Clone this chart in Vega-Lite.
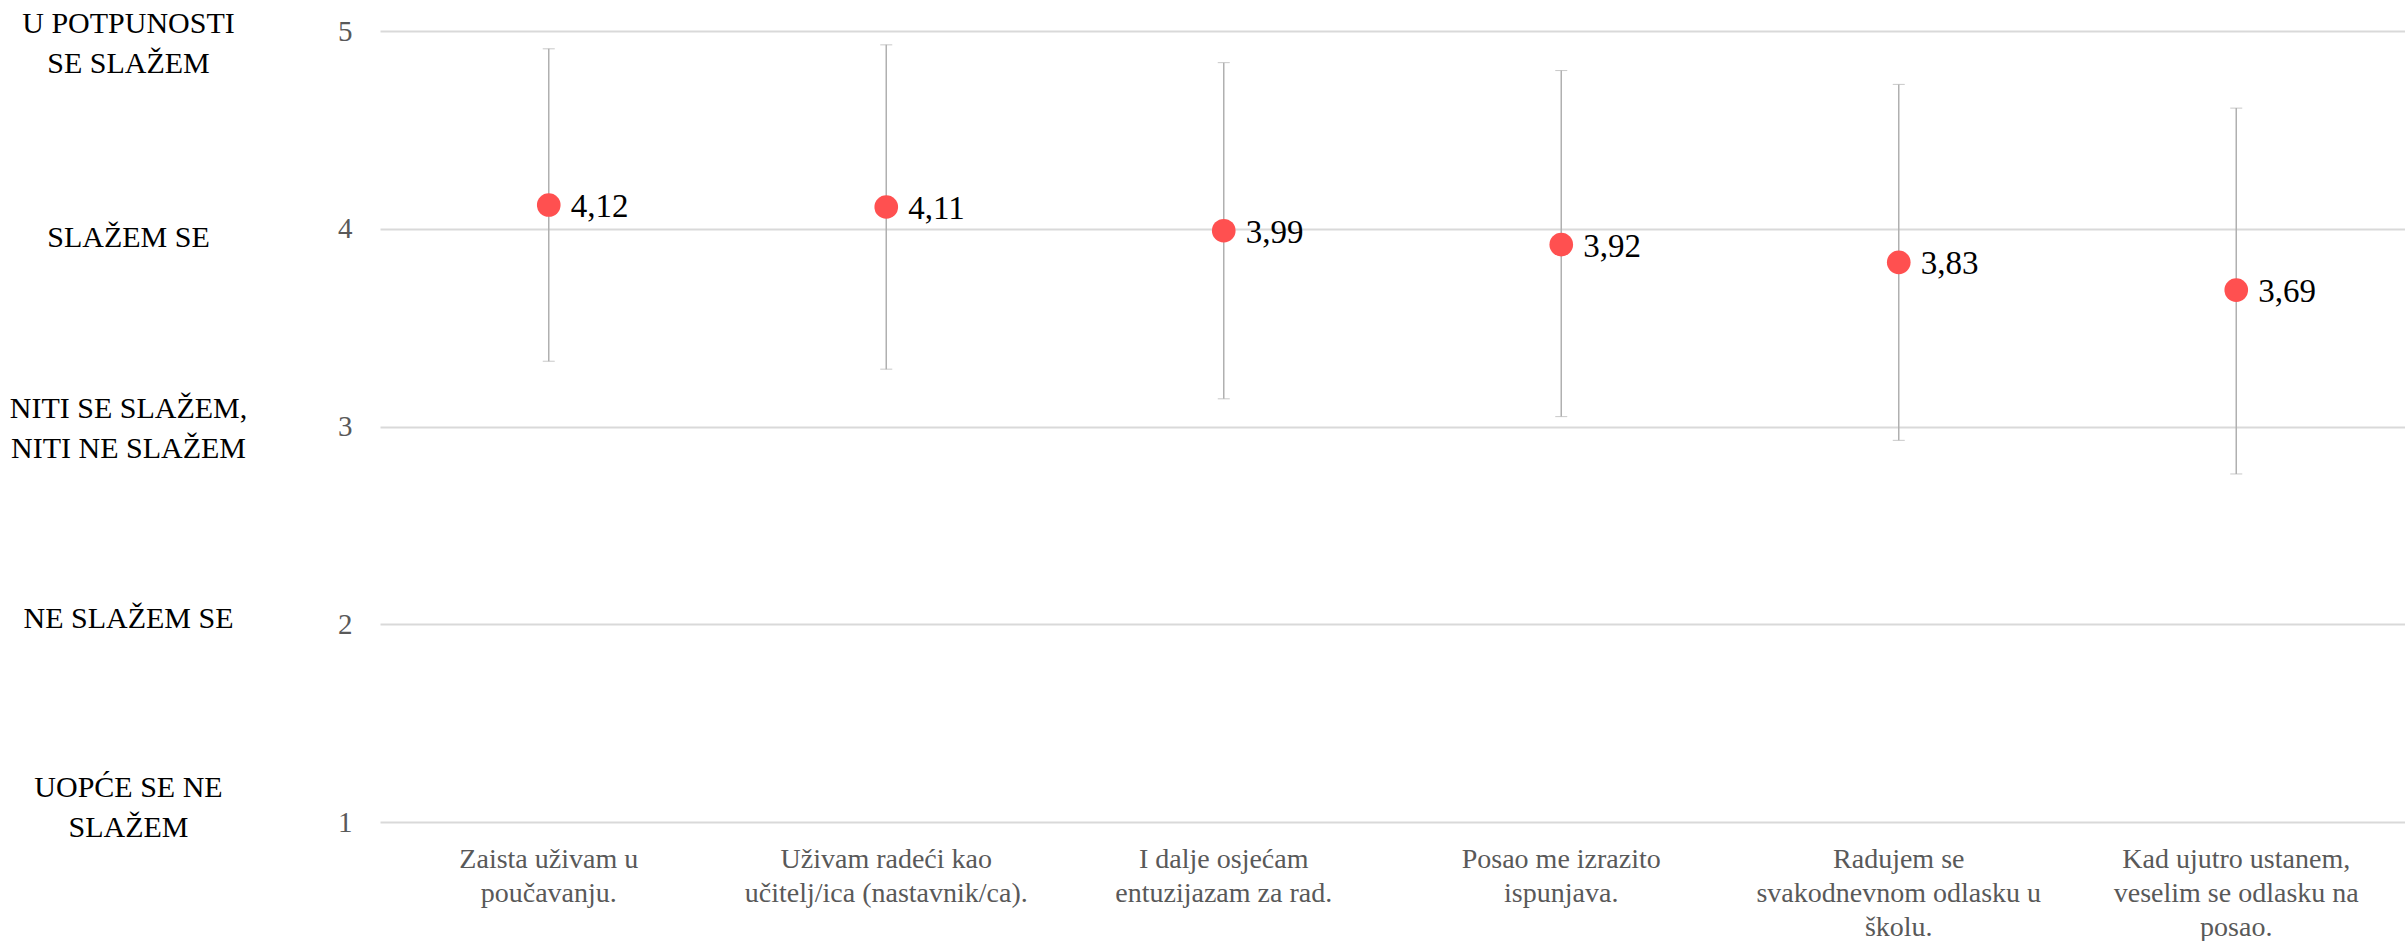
{
  "$schema": "https://vega.github.io/schema/vega-lite/v6.json",
  "width": 2025,
  "height": 791,
  "autosize": {"type": "none"},
  "padding": {"left": 380, "top": 31, "right": 0, "bottom": 119},
  "background": "white",
  "config": {
    "view": {"stroke": null},
    "font": "Liberation Serif",
    "locale": {"number": {"decimal": ",", "thousands": ".", "grouping": [3], "currency": ["", " €"]}}
  },
  "data": {
    "values": [
      {"stavka": "Zaista uživam u\npoučavanju.", "mean": 4.12, "lo": 3.33, "hi": 4.91},
      {"stavka": "Uživam radeći kao\nučitelj/ica (nastavnik/ca).", "mean": 4.11, "lo": 3.29, "hi": 4.93},
      {"stavka": "I dalje osjećam\nentuzijazam za rad.", "mean": 3.99, "lo": 3.14, "hi": 4.84},
      {"stavka": "Posao me izrazito\nispunjava.", "mean": 3.92, "lo": 3.05, "hi": 4.80},
      {"stavka": "Radujem se\nsvakodnevnom odlasku u\nškolu.", "mean": 3.83, "lo": 2.93, "hi": 4.73},
      {"stavka": "Kad ujutro ustanem,\nveselim se odlasku na\nposao.", "mean": 3.69, "lo": 2.76, "hi": 4.61}
    ]
  },
  "encoding": {
    "x": {
      "field": "stavka",
      "type": "nominal",
      "sort": null,
      "scale": {"paddingInner": 0, "paddingOuter": 0},
      "axis": {
        "title": null,
        "labelAngle": 0,
        "labelExpr": "split(datum.label, '\\n')",
        "labelFont": "Liberation Serif",
        "labelFontSize": 28,
        "labelLineHeight": 34,
        "labelColor": "#595959",
        "labelPadding": 23,
        "labelBaseline": "top",
        "labelLimit": 0,
        "ticks": false,
        "domain": false,
        "grid": false
      }
    }
  },
  "layer": [
    {
      "mark": {
        "type": "errorbar",
        "ticks": {"size": 12, "color": "#b0b0b0", "strokeWidth": 1.5},
        "rule": {"color": "#b0b0b0", "strokeWidth": 1.5}
      },
      "encoding": {
        "y": {"field": "lo", "type": "quantitative", "scale": {"domain": [1, 5], "nice": false}, "axis": null},
        "y2": {"field": "hi"}
      }
    },
    {
      "mark": {"type": "circle", "size": 560, "color": "#ff5050", "opacity": 1},
      "encoding": {
        "y": {
          "field": "mean",
          "type": "quantitative",
          "scale": {"domain": [1, 5], "nice": false},
          "axis": {
            "title": null,
            "orient": "left",
            "values": [1, 2, 3, 4, 5],
            "format": "d",
            "labelFont": "Liberation Serif",
            "labelFontSize": 29,
            "labelColor": "#595959",
            "labelPadding": 28,
            "ticks": false,
            "domain": false,
            "grid": true,
            "gridColor": "#d9d9d9",
            "gridWidth": 2
          }
        }
      }
    },
    {
      "mark": {"type": "text", "align": "left", "baseline": "middle", "dx": 22, "dy": 2, "fontSize": 33, "font": "Liberation Serif", "color": "#000000"},
      "encoding": {
        "y": {
          "field": "mean",
          "type": "quantitative",
          "scale": {"domain": [1, 5], "nice": false},
          "axis": {
            "title": null,
            "orient": "left",
            "offset": 252,
            "values": [1, 2, 3, 4, 5],
            "labelExpr": "datum.value == 5 ? ['U POTPUNOSTI', 'SE SLAŽEM'] : datum.value == 4 ? 'SLAŽEM SE' : datum.value == 3 ? ['NITI SE SLAŽEM,', 'NITI NE SLAŽEM'] : datum.value == 2 ? 'NE SLAŽEM SE' : ['UOPĆE SE NE', 'SLAŽEM']",
            "labelFont": "Liberation Serif",
            "labelFontSize": 30,
            "labelLineHeight": 40,
            "labelColor": "#000000",
            "labelAlign": "center",
            "labelBaseline": "middle",
            "labelPadding": 0,
            "labelLimit": 0,
            "labelOffset": {
              "condition": [
                {"test": "datum.value == 5", "value": -8},
                {"test": "datum.value == 4", "value": 9},
                {"test": "datum.value == 3", "value": -18},
                {"test": "datum.value == 2", "value": -6},
                {"test": "datum.value == 1", "value": -35}
              ],
              "value": 0
            },
            "ticks": false,
            "domain": false,
            "grid": false
          }
        },
        "text": {"field": "mean", "type": "quantitative", "format": ".2f"}
      }
    }
  ],
  "resolve": {"scale": {"y": "shared"}, "axis": {"y": "independent"}}
}
